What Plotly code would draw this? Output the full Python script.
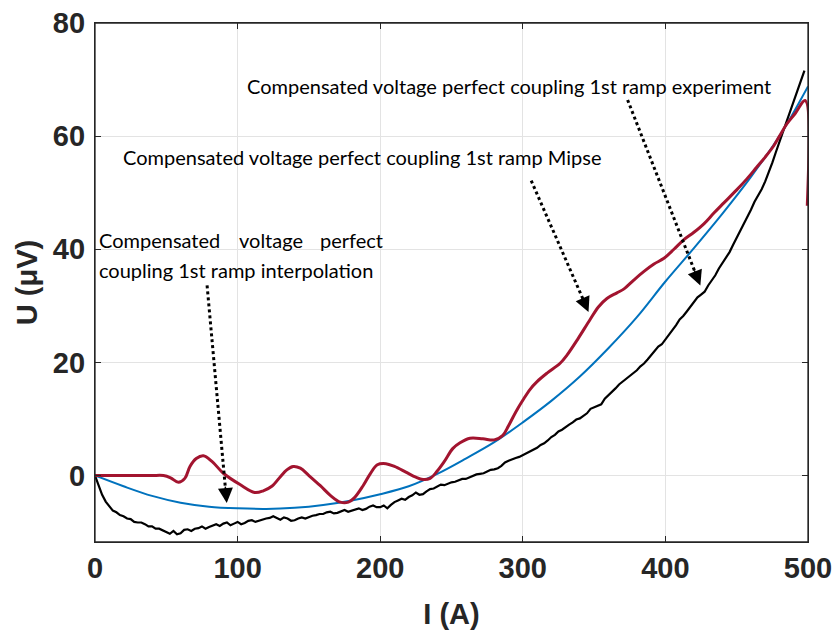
import plotly.graph_objects as go

# ---------------- data ----------------
blue_x = [0, 20, 40, 60, 80, 100, 120, 140, 160, 180, 200, 220, 240, 260, 280, 300,
          320, 340, 360, 380, 400, 420, 440, 460, 480, 500]
blue_y = [0, -1.9, -3.6, -4.8, -5.5, -5.8, -5.9, -5.7, -5.2, -4.4, -3.3, -1.9, 0.3, 3.0,
          5.9, 9.4, 13.2, 17.5, 22.5, 28.0, 34.3, 40.2, 46.3, 52.8, 60.0, 68.8]

red_x = [0, 10, 20, 30, 40, 48, 53, 58.5, 63, 66.6, 71, 76, 82, 90, 101.7, 112, 118, 124,
         130, 134.5, 139, 144, 150, 158, 165, 172, 177.7, 182, 188, 193, 198, 204, 210, 218,
         225, 230, 235, 240, 245, 251, 256, 263, 272, 280, 286, 290, 295, 300, 305, 310, 317,
         326, 331, 339, 347, 353, 359, 366, 371, 378, 385, 392, 399, 406, 413, 420, 427, 434,
         441, 450, 457, 464, 470, 476, 480, 485, 491, 498, 499.5]
red_y = [0, 0, 0, 0, 0, 0, -0.4, -1.2, -0.5, 1.6, 3.0, 3.5, 2.5, 0.4, -1.6, -3.0, -2.7,
         -1.9, -0.2, 1.0, 1.6, 1.3, 0.0, -1.8, -3.5, -4.7, -4.7, -3.9, -1.8, 0.3, 1.9, 2.1,
         1.6, 0.6, -0.3, -0.7, -0.5, 0.8, 2.5, 4.8, 5.8, 6.6, 6.5, 6.3, 7.1, 8.8, 11.2, 13.3,
         15.2, 16.6, 18.1, 19.8, 21.3, 24.3, 27.5, 29.8, 31.3, 32.3, 33.0, 34.6, 36.1, 37.4,
         38.4, 40.0, 41.7, 43.0, 44.5, 46.4, 48.2, 50.5, 52.4, 54.5, 56.3, 58.3, 60.0, 62.1,
         64.0, 66.3, 47.7]

black_x = [i * 2.5 for i in range(200)]
black_y = [0, -1.8, -3.4, -4.6, -5.4, -6.2, -6.5, -7.0, -7.2, -7.6,
           -7.7, -8.2, -8.3, -8.3, -8.6, -9.0, -9.0, -9.4, -9.4, -9.7,
           -10.1, -10.3, -9.8, -10.4, -10.2, -9.6, -9.5, -9.8, -9.4, -9.3,
           -9.0, -9.4, -9.1, -8.8, -8.6, -8.9, -8.5, -8.3, -8.8, -8.5,
           -8.2, -8.6, -8.4, -8.0, -7.9, -8.2, -8.0, -7.7, -7.6, -7.5,
           -7.2, -7.5, -7.8, -7.4, -7.6, -8.0, -7.9, -7.6, -7.4, -7.6,
           -7.3, -7.1, -7.0, -6.8, -6.8, -6.5, -6.4, -6.7, -6.6, -6.3,
           -6.1, -6.4, -6.2, -5.9, -5.8, -6.1, -5.9, -5.5, -5.3, -5.6,
           -5.6, -5.3, -5.8, -5.2, -4.7, -4.4, -4.1, -4.3, -3.8, -3.5,
           -3.0, -3.4, -3.3, -2.8, -2.4, -2.3, -2.0, -1.6, -1.7, -1.4,
           -1.2, -1.1, -0.9, -0.6, -0.6, -0.3, -0.1, 0.2, 0.3, 0.4,
           0.7, 1.0, 1.1, 1.3, 1.7, 2.3, 2.6, 2.9, 3.1, 3.3,
           3.6, 4.0, 4.3, 4.6, 4.9, 5.4, 5.7, 6.2, 6.8, 7.2,
           7.8, 8.1, 8.6, 9.0, 9.4, 9.9, 10.1, 10.6, 11.0, 11.8,
           12.1, 12.3, 12.6, 13.6, 14.2, 14.7, 15.4, 16.1, 16.6, 17.0,
           17.5, 18.1, 18.6, 19.3, 19.8, 20.5, 21.3, 22.2, 22.8, 23.2,
           24.0, 25.0, 25.8, 26.6, 27.6, 28.2, 29.0, 29.9, 30.6, 31.5,
           32.0, 32.5, 33.6, 34.4, 35.4, 36.6, 37.6, 38.4, 39.5, 40.8,
           42.0, 43.2, 44.6, 45.7, 47.0, 48.4, 49.5, 50.6, 52.0, 53.6,
           55.3, 57.2, 59.0, 60.6, 62.5, 64.3, 66.3, 67.8, 69.6, 71.6]

x_ticks = [0, 100, 200, 300, 400, 500]
y_ticks = [0, 20, 40, 60, 80]

label_exp = "Compensated voltage perfect coupling 1st ramp experiment"
label_mipse = "Compensated voltage perfect coupling 1st ramp Mipse"
label_interp_words = ["Compensated", "voltage", "perfect"]
label_interp_line2 = "coupling 1st ramp interpolation"

# ---------------- figure ----------------
fig = go.Figure()
fig.add_trace(go.Scatter(x=black_x, y=black_y, mode="lines",
                         line=dict(color="#000000", width=2.2), showlegend=False))
fig.add_trace(go.Scatter(x=blue_x, y=blue_y, mode="lines", line_shape="spline",
                         line=dict(color="#0072BD", width=2), showlegend=False))
fig.add_trace(go.Scatter(x=red_x, y=red_y, mode="lines", line_shape="spline",
                         line=dict(color="#A2142F", width=3), showlegend=False))

txt_font = dict(family="Lato", size=20, color="#000000")

def ann_text(x, y, t):
    fig.add_annotation(x=x, y=y, xref="x", yref="y", text=t, showarrow=False,
                       xanchor="left", yanchor="middle", font=txt_font)

ann_text(105.5, 68.9, label_exp)
ann_text(18.5, 56.3, label_mipse)
ann_text(1.4, 41.6, label_interp_words[0])
ann_text(99.6, 41.6, label_interp_words[1])
ann_text(156.5, 41.6, label_interp_words[2])
ann_text(1.4, 36.4, label_interp_line2)

# dotted arrows: (start x, start y, shaft end x, shaft end y, tip x, tip y, ax, ay)
arrows = [
    (78.6, 33.6, 91.5, -2.4, 92.4, -4.87, -1.6, -17.9),
    (305.9, 52.15, 342.2, 31.2, 346.1, 28.9, -7.1, -16.5),
    (373.5, 66.4, 420.9, 35.9, 424.5, 33.6, -6.6, -16.8),
]
for sx, sy, ex, ey, tx, ty, ax, ay in arrows:
    fig.add_shape(type="line", xref="x", yref="y", x0=sx, y0=sy, x1=ex, y1=ey,
                  line=dict(color="black", width=3, dash="dot"))
    fig.add_annotation(x=tx, y=ty, xref="x", yref="y", text="", showarrow=True,
                       ax=ax, ay=ay, arrowhead=2, arrowwidth=1.5, arrowsize=2,
                       arrowcolor="black")

# plot-area frame
fig.add_shape(type="rect", xref="paper", yref="paper", x0=0, y0=0, x1=1, y1=1,
              line=dict(color="#262626", width=1.3), fillcolor="rgba(0,0,0,0)", layer="above")

axis_common = dict(
    showline=True, linecolor="#262626", linewidth=1.3, mirror="ticks",
    ticks="inside", ticklen=6, tickcolor="#262626", tickwidth=1.3,
    showgrid=True, gridcolor="#e3e3e3", gridwidth=1, zeroline=False,
    automargin=False,
    tickfont=dict(family="Liberation Sans", size=29, color="#262626", weight="bold"),
)
fig.update_xaxes(range=[0, 500], tickvals=x_ticks, ticktext=[str(v) for v in x_ticks],
                 title=dict(text="I (A)", standoff=20,
                            font=dict(family="Liberation Sans", size=29, color="#262626", weight="bold")),
                 **axis_common)
fig.update_yaxes(range=[-11.75, 80.001], tickvals=y_ticks, ticktext=[str(v) for v in y_ticks],
                 ticklabelstandoff=3,
                 title=dict(text="U (μV)", standoff=6,
                            font=dict(family="Liberation Sans", size=29, color="#262626", weight="bold")),
                 **axis_common)
fig.update_layout(width=836, height=635, margin=dict(l=95, r=28, t=23, b=93),
                  paper_bgcolor="white", plot_bgcolor="white")
fig.write_html("out.html", config={"displayModeBar": False},
               post_script="document.body.style.margin='0';document.body.style.overflow='hidden';")
